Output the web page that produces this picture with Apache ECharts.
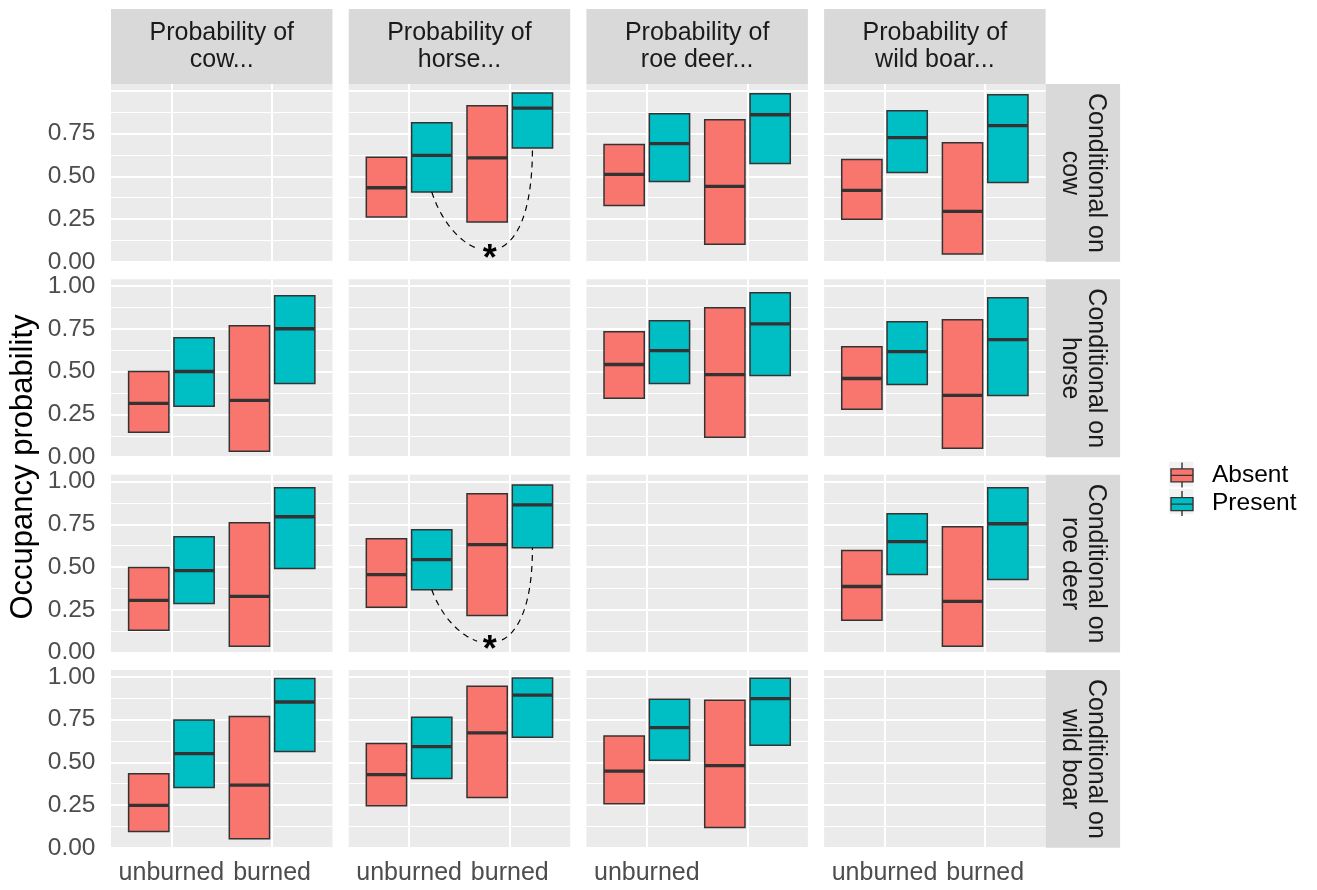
<!DOCTYPE html>
<html>
<head>
<meta charset="utf-8">
<title>Occupancy probability by burn status</title>
<script src="https://cdn.jsdelivr.net/npm/echarts@6/dist/echarts.min.js"></script>
<style>
  html, body { margin: 0; padding: 0; background: #ffffff; }
  #chart { width: 1317px; height: 890px; }
</style>
</head>
<body>
<div id="chart"></div>
<script>
// ---- categories and labels ----
const species = ['cow', 'horse', 'roe deer', 'wild boar'];
const burnCategories = ['unburned', 'burned'];
const groups = ['Absent', 'Present'];
const yTickValues = [0, 0.25, 0.5, 0.75, 1];
const colStripLabels = ['Probability of\ncow...', 'Probability of\nhorse...', 'Probability of\nroe deer...', 'Probability of\nwild boar...'];
const rowStripLabels = ['Conditional on\ncow', 'Conditional on\nhorse', 'Conditional on\nroe deer', 'Conditional on\nwild boar'];
// x tick labels shown under each column of the bottom row
const bottomTickLabels = [
  ['unburned', 'burned'],
  ['unburned', 'burned'],
  ['unburned', ''],
  ['unburned', 'burned']
];

// ---- estimates: [lower, median, upper] for unburned, then burned ----
// conditional on cow
const horseGivenCowAbsent    = [[0.262, 0.433, 0.611], [0.233, 0.608, 0.913]];
const horseGivenCowPresent   = [[0.408, 0.623, 0.814], [0.666, 0.899, 0.987]];
const roeGivenCowAbsent      = [[0.330, 0.511, 0.686], [0.103, 0.441, 0.831]];
const roeGivenCowPresent     = [[0.470, 0.691, 0.866], [0.575, 0.860, 0.983]];
const boarGivenCowAbsent     = [[0.249, 0.418, 0.598], [0.045, 0.295, 0.697]];
const boarGivenCowPresent    = [[0.523, 0.726, 0.884], [0.464, 0.796, 0.977]];
// conditional on horse
const cowGivenHorseAbsent    = [[0.146, 0.315, 0.501], [0.035, 0.332, 0.769]];
const cowGivenHorsePresent   = [[0.297, 0.501, 0.699], [0.431, 0.751, 0.944]];
const roeGivenHorseAbsent    = [[0.344, 0.542, 0.734], [0.116, 0.483, 0.874]];
const roeGivenHorsePresent   = [[0.431, 0.623, 0.798], [0.478, 0.780, 0.961]];
const boarGivenHorseAbsent   = [[0.280, 0.460, 0.646], [0.052, 0.361, 0.804]];
const boarGivenHorsePresent  = [[0.425, 0.617, 0.792], [0.361, 0.687, 0.932]];
// conditional on roe deer
const cowGivenRoeAbsent      = [[0.130, 0.305, 0.497], [0.037, 0.328, 0.759]];
const cowGivenRoePresent     = [[0.287, 0.479, 0.677], [0.491, 0.794, 0.963]];
const horseGivenRoeAbsent    = [[0.264, 0.456, 0.665], [0.217, 0.631, 0.928]];
const horseGivenRoePresent   = [[0.367, 0.543, 0.718], [0.613, 0.864, 0.980]];
const boarGivenRoeAbsent     = [[0.188, 0.386, 0.596], [0.037, 0.299, 0.736]];
const boarGivenRoePresent    = [[0.456, 0.648, 0.811], [0.427, 0.753, 0.963]];
// conditional on wild boar
const cowGivenBoarAbsent     = [[0.096, 0.248, 0.434], [0.053, 0.367, 0.768]];
const cowGivenBoarPresent    = [[0.353, 0.551, 0.748], [0.563, 0.853, 0.991]];
const horseGivenBoarAbsent   = [[0.246, 0.428, 0.611], [0.295, 0.672, 0.945]];
const horseGivenBoarPresent  = [[0.406, 0.592, 0.764], [0.647, 0.893, 0.994]];
const roeGivenBoarAbsent     = [[0.258, 0.449, 0.654], [0.119, 0.481, 0.864]];
const roeGivenBoarPresent    = [[0.513, 0.703, 0.869], [0.600, 0.873, 0.992]];

// facet grid: rows = conditioning species, cols = target species
const facetTable = [
  [null, [horseGivenCowAbsent, horseGivenCowPresent], [roeGivenCowAbsent, roeGivenCowPresent], [boarGivenCowAbsent, boarGivenCowPresent]],
  [[cowGivenHorseAbsent, cowGivenHorsePresent], null, [roeGivenHorseAbsent, roeGivenHorsePresent], [boarGivenHorseAbsent, boarGivenHorsePresent]],
  [[cowGivenRoeAbsent, cowGivenRoePresent], [horseGivenRoeAbsent, horseGivenRoePresent], null, [boarGivenRoeAbsent, boarGivenRoePresent]],
  [[cowGivenBoarAbsent, cowGivenBoarPresent], [horseGivenBoarAbsent, horseGivenBoarPresent], [roeGivenBoarAbsent, roeGivenBoarPresent], null]
];

// significant burned vs unburned contrasts (Present group): [row, col]
const significantFacets = [[0, 1], [2, 1]];
const significanceLabel = '*';

// ---- drawing ----
const FONT = "'Liberation Sans', Arial, Helvetica, sans-serif";
const COLORS = { Absent: '#F8766D', Present: '#00BFC4' };
const DODGE = 0.225;          // half of the dodge distance between groups
const BOX_WIDTH = 0.4;
const Y_MAX = 1.04;
const L = { left0: 111, colStep: 237.7, top0: 84, rowStep: 195.35, w: 221.5, h: 177.8 };

function renderCrossbar(params, api) {
  const x = api.value(0);
  const lo = api.value(1), mid = api.value(2), hi = api.value(3);
  const tl = api.coord([x - BOX_WIDTH / 2, hi]);
  const br = api.coord([x + BOX_WIDTH / 2, lo]);
  const m = api.coord([x, mid]);
  return {
    type: 'group',
    children: [
      { type: 'rect', shape: { x: tl[0], y: tl[1], width: br[0] - tl[0], height: br[1] - tl[1] },
        style: { fill: api.visual('color'), stroke: '#333333', lineWidth: 1.5 } },
      { type: 'line', shape: { x1: tl[0], y1: m[1], x2: br[0], y2: m[1] },
        style: { stroke: '#333333', lineWidth: 3.3 } }
    ]
  };
}

// dashed bracket joining the lower ends of two boxes, with a star at its lowest part
function renderSignificance(params, api) {
  const x0 = api.value(0), y0 = api.value(1), x1 = api.value(2), y1 = api.value(3);
  const sx = api.value(4), sy = api.value(5);
  const P = [[x0, y0], [x0 + 0.225, 0.0], [x1, -0.18], [x1, y1]].map(p => api.coord(p));
  const star = api.coord([sx, sy]);
  const pieces = [];
  let cur = [];
  const N = 80;
  for (let i = 0; i <= N; i++) {
    const t = i / N, u = 1 - t;
    const a = u * u * u, b = 3 * t * u * u, c = 3 * t * t * u, d = t * t * t;
    const px = a * P[0][0] + b * P[1][0] + c * P[2][0] + d * P[3][0];
    const py = a * P[0][1] + b * P[1][1] + c * P[2][1] + d * P[3][1];
    if (Math.abs(px - star[0]) < 12 && Math.abs(py - star[1]) < 16) {
      if (cur.length > 1) pieces.push(cur);
      cur = [];
    } else {
      cur.push([px, py]);
    }
  }
  if (cur.length > 1) pieces.push(cur);
  const children = pieces.map(pts => ({
    type: 'polyline', shape: { points: pts },
    style: { stroke: '#000000', lineWidth: 1.2, lineDash: [6, 5], fill: null }
  }));
  children.push({
    type: 'text', x: star[0], y: star[1] + 7,
    style: { text: significanceLabel, fontSize: 36, fontWeight: 'bold', fontFamily: FONT,
             fill: '#000000', align: 'center', verticalAlign: 'middle' }
  });
  return { type: 'group', children };
}

const grids = [], xAxes = [], yAxes = [], series = [];
for (let r = 0; r < 4; r++) {
  for (let c = 0; c < 4; c++) {
    const g = r * 4 + c;
    grids.push({
      left: L.left0 + c * L.colStep, top: L.top0 + r * L.rowStep, width: L.w, height: L.h,
      show: true, backgroundColor: '#EBEBEB', borderWidth: 0
    });
    xAxes.push({
      gridIndex: g, type: 'value', min: 0.4, max: 2.6,
      axisLine: { show: false },
      axisTick: { show: false, customValues: [1, 2] },
      splitLine: { show: true, lineStyle: { color: '#FFFFFF', width: 2 } },
      axisLabel: {
        show: r === 3, customValues: [1, 2],
        formatter: v => bottomTickLabels[c][Math.round(v) - 1] || '',
        fontSize: 25, color: '#4D4D4D', fontFamily: FONT, margin: 13
      }
    });
    // major breaks with labels
    yAxes.push({
      gridIndex: g, type: 'value', min: 0, max: Y_MAX, interval: 0.25, position: 'left',
      axisLine: { show: false }, axisTick: { show: false },
      splitLine: { show: true, showMaxLine: false, lineStyle: { color: '#FFFFFF', width: 2 } },
      axisLabel: {
        show: c === 0, margin: 15.5, fontSize: 24.5, color: '#4D4D4D', fontFamily: FONT,
        showMaxLabel: false,
        formatter: v => {
          const hit = yTickValues.find(t => Math.abs(t - v) < 1e-6);
          if (hit === undefined) return '';
          if (r === 0 && hit === 1) return '';
          return hit.toFixed(2);
        }
      }
    });
    // minor breaks
    yAxes.push({
      gridIndex: g, type: 'value', min: 0, max: Y_MAX, interval: 0.125, position: 'left',
      axisLine: { show: false }, axisTick: { show: false }, axisLabel: { show: false },
      splitLine: { show: true, showMaxLine: false, lineStyle: { color: '#FFFFFF', width: 1 } }
    });

    const facet = facetTable[r][c];
    if (!facet) continue;
    groups.forEach((grp, gi) => {
      const offset = gi === 0 ? -DODGE : DODGE;
      const rows = facet[gi].map((v, k) => [k + 1 + offset, v[0], v[1], v[2]]);
      series.push({
        type: 'custom', name: grp, coordinateSystem: 'cartesian2d',
        xAxisIndex: g, yAxisIndex: 2 * g,
        itemStyle: { color: COLORS[grp], borderColor: '#333333', borderWidth: 1.4 },
        encode: { x: 0, y: [1, 2, 3] },
        renderItem: renderCrossbar,
        data: rows, silent: true, z: 3
      });
    });
    if (significantFacets.some(([sr, sc]) => sr === r && sc === c)) {
      const present = facet[1];
      series.push({
        type: 'custom', coordinateSystem: 'cartesian2d',
        xAxisIndex: g, yAxisIndex: 2 * g,
        renderItem: renderSignificance,
        encode: { x: [0, 2], y: [1, 3] },
        data: [[1 + DODGE, present[0][0], 2 + DODGE, present[1][0], 1.8, 0.05]],
        silent: true, z: 4
      });
    }
  }
}

// strips, legend key backgrounds and the y axis title
const graphics = [];
for (let c = 0; c < 4; c++) {
  const x = L.left0 + c * L.colStep;
  graphics.push({ type: 'rect', shape: { x, y: 9, width: L.w, height: L.top0 - 9 }, style: { fill: '#D9D9D9' }, silent: true });
  graphics.push({ type: 'text', x: x + L.w / 2, y: (9 + L.top0) / 2,
    style: { text: colStripLabels[c], fontSize: 25, fontFamily: FONT, fill: '#1A1A1A', align: 'center', verticalAlign: 'middle', lineHeight: 26.5 }, silent: true });
}
const stripX = L.left0 + 3 * L.colStep + L.w;
for (let r = 0; r < 4; r++) {
  const y = L.top0 + r * L.rowStep;
  graphics.push({ type: 'rect', shape: { x: stripX, y, width: 74.5, height: L.h }, style: { fill: '#D9D9D9' }, silent: true });
  graphics.push({ type: 'text', x: stripX + 37.25, y: y + L.h / 2, rotation: -Math.PI / 2,
    style: { text: rowStripLabels[r], fontSize: 25, fontFamily: FONT, fill: '#1A1A1A', align: 'center', verticalAlign: 'middle', lineHeight: 26.5 }, silent: true });
}
graphics.push({ type: 'rect', shape: { x: 1169, y: 461.7, width: 24.5, height: 25 }, style: { fill: '#F2F2F2' }, silent: true, z: -1 });
graphics.push({ type: 'rect', shape: { x: 1169, y: 489, width: 24.5, height: 25 }, style: { fill: '#F2F2F2' }, silent: true, z: -1 });
graphics.push({ type: 'text', x: 23, y: 467, rotation: Math.PI / 2,
  style: { text: 'Occupancy probability', fontSize: 31, fontFamily: FONT, fill: '#000000', align: 'center', verticalAlign: 'middle' }, silent: true });

const chart = echarts.init(document.getElementById('chart'), null, { renderer: 'canvas' });
chart.setOption({
  animation: false,
  backgroundColor: '#FFFFFF',
  grid: grids,
  xAxis: xAxes,
  yAxis: yAxes,
  legend: {
    data: groups, orient: 'vertical', left: 1170.3, top: 461.7,
    itemWidth: 22, itemHeight: 25, itemGap: 2.3,
    icon: 'path://M0,6.5 L22,6.5 L22,19.5 L0,19.5 Z M0,13 L22,13 M11,0 L11,6.5 M11,19.5 L11,25',
    itemStyle: { borderColor: '#333333', borderWidth: 1.4 },
    textStyle: { fontSize: 24.5, color: '#000000', fontFamily: FONT, padding: [0, 0, 0, 14] },
    selectedMode: false, padding: 0
  },
  graphic: graphics,
  series
});
</script>
</body>
</html>
